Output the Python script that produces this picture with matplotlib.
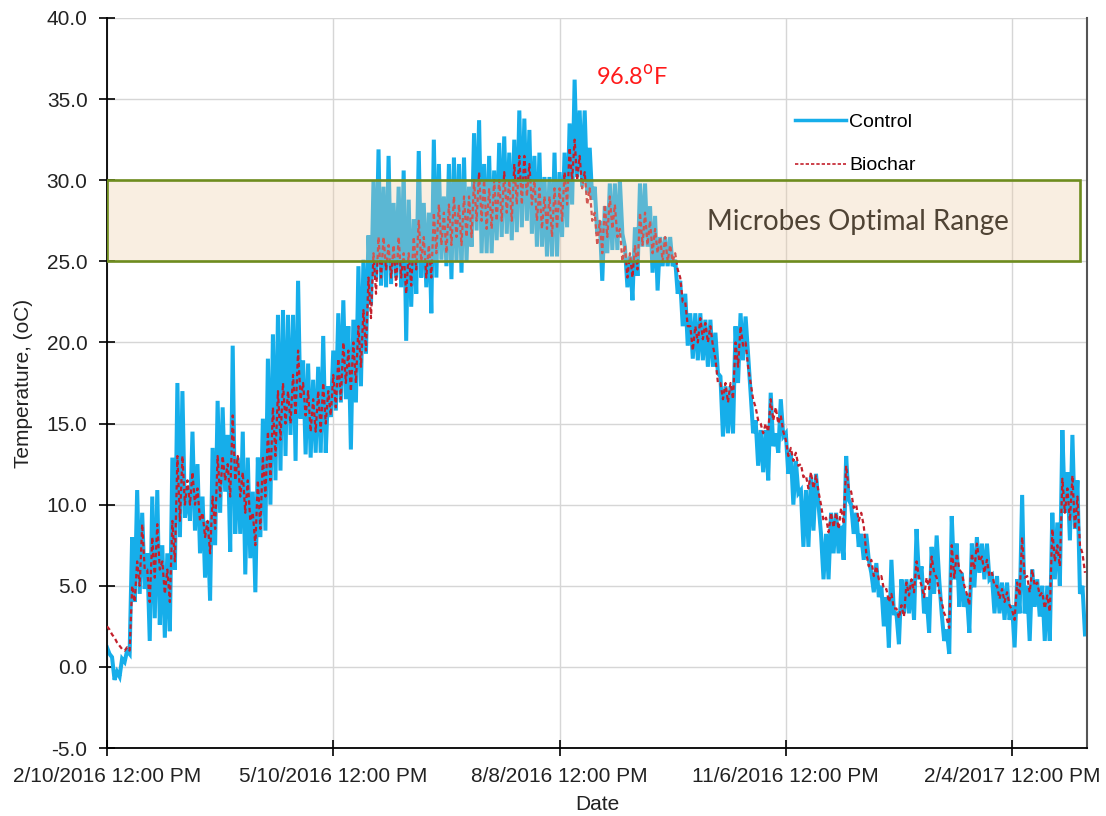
import numpy as np
import matplotlib
matplotlib.use("Agg")
import matplotlib.pyplot as plt
from matplotlib.patches import Rectangle
from matplotlib.lines import Line2D

# ---------------- data ----------------
# days after 2/10/2016 12:00 PM, one sample pair (daily high, following low) every 2 days
step_days = 2
control_hi = [
    1.2, 0.6, -0.3, 0.5, 1.0, 8.0, 10.9, 9.5, 7.0, 10.5,
    10.9, 7.5, 7.0, 12.9, 17.5, 17.0, 11.0, 14.5, 12.5, 10.5,
    9.0, 13.5, 16.4, 16.0, 14.3, 19.8, 12.9, 14.5, 12.9, 10.8,
    12.9, 15.3, 19.0, 20.5, 21.7, 22.0, 21.7, 21.7, 23.8, 18.9,
    18.7, 17.7, 18.5, 20.4, 17.3, 19.5, 21.8, 22.6, 21.0, 21.4,
    24.7, 25.1, 26.6, 30.0, 31.9, 29.6, 31.5, 28.6, 29.6, 30.6,
    28.8, 27.6, 31.8, 28.6, 28.0, 32.5, 31.0, 29.0, 31.0, 31.4,
    31.0, 31.4, 29.6, 32.9, 33.7, 31.0, 31.5, 30.6, 32.3, 32.7,
    31.7, 32.5, 34.3, 33.8, 33.1, 31.5, 31.7, 30.2, 30.2, 31.7,
    30.5, 31.7, 33.5, 36.2, 34.3, 34.3, 32.0, 29.6, 27.5, 28.4,
    29.8, 29.8, 30.0, 25.9, 25.3, 27.1, 29.8, 29.8, 28.4, 27.8,
    26.5, 26.5, 26.5, 25.1, 23.8, 23.0, 21.8, 21.8, 21.8, 21.4,
    21.4, 20.6, 17.9, 17.3, 17.3, 21.0, 21.8, 21.6, 16.9, 15.2,
    14.6, 14.6, 16.9, 14.4, 16.5, 14.4, 13.2, 12.7, 10.9, 10.9,
    11.7, 11.9, 8.2, 8.2, 9.5, 9.5, 8.7, 13.0, 10.0, 9.5,
    8.2, 8.2, 5.8, 6.4, 5.0, 4.3, 6.6, 3.3, 5.4, 5.4,
    5.4, 8.5, 6.2, 4.3, 7.4, 8.1, 3.3, 2.3, 9.3, 7.6,
    5.8, 4.5, 7.6, 8.0, 7.6, 7.6, 5.6, 5.6, 5.2, 5.2,
    3.8, 5.4, 10.6, 5.0, 6.0, 5.4, 5.0, 5.0, 9.5, 8.9,
    14.6, 12.0, 14.3, 11.5, 5.0,
]
control_lo = [
    0.8, -0.8, -0.6, 0.3, 0.8, 4.0, 4.5, 4.8, 1.6, 3.0,
    2.6, 1.8, 2.2, 6.0, 8.0, 9.2, 9.0, 8.4, 7.0, 5.5,
    4.1, 7.5, 9.5, 10.8, 7.1, 8.2, 8.2, 5.7, 6.7, 4.6,
    8.0, 8.4, 10.0, 11.5, 12.1, 13.0, 14.3, 12.7, 15.3, 13.1,
    12.9, 13.2, 13.2, 13.2, 15.4, 15.8, 16.3, 16.5, 13.4, 16.3,
    17.3, 19.3, 22.3, 23.9, 23.5, 23.4, 23.6, 24.0, 23.4, 20.1,
    22.2, 23.0, 24.0, 23.4, 21.8, 24.0, 25.1, 24.7, 23.9, 25.0,
    24.3, 25.0, 25.9, 26.9, 25.5, 25.5, 25.5, 26.3, 26.5, 26.7,
    26.3, 26.8, 27.1, 27.5, 26.7, 25.9, 25.9, 25.3, 25.3, 25.3,
    26.5, 27.1, 28.5, 30.2, 29.6, 29.2, 28.8, 26.7, 23.8, 25.5,
    25.7, 25.7, 26.7, 23.4, 22.6, 24.1, 25.9, 25.9, 24.3, 23.2,
    24.7, 24.7, 24.7, 23.0, 21.0, 19.8, 19.0, 18.9, 18.9, 18.5,
    18.5, 18.1, 14.2, 14.4, 14.4, 17.5, 18.9, 19.3, 14.4, 12.4,
    12.0, 11.5, 13.6, 13.2, 14.2, 11.9, 10.0, 10.7, 7.4, 7.4,
    8.4, 10.0, 5.4, 5.4, 7.0, 7.0, 6.6, 10.3, 8.2, 7.4,
    6.6, 6.6, 4.6, 4.3, 2.5, 1.2, 3.3, 1.4, 3.3, 3.3,
    2.9, 5.4, 3.3, 2.1, 4.5, 5.4, 1.6, 0.8, 5.4, 3.7,
    3.7, 2.1, 4.9, 5.8, 5.4, 5.4, 3.3, 3.3, 2.9, 2.9,
    1.2, 3.3, 3.3, 1.6, 3.7, 3.1, 1.6, 1.6, 5.4, 5.0,
    9.5, 7.8, 8.5, 4.5, 2.0,
]
biochar_hi = [
    2.5, 2.0, 1.5, 1.1, 1.2, 5.0, 6.5, 8.8, 6.0, 8.0,
    8.8, 6.5, 6.0, 9.0, 13.0, 13.0, 11.5, 12.0, 11.0, 9.5,
    9.0, 10.5, 13.0, 13.0, 12.5, 15.5, 13.0, 12.0, 11.5, 9.5,
    11.5, 13.0, 14.5, 16.0, 17.0, 17.5, 17.0, 18.0, 19.5, 17.5,
    17.0, 16.5, 17.0, 17.5, 17.0, 18.0, 19.0, 20.0, 19.5, 20.0,
    21.0, 22.0, 24.0, 25.5, 26.5, 26.5, 26.0, 26.0, 26.5, 25.5,
    25.5, 26.5, 27.5, 26.5, 26.0, 28.0, 28.5, 28.0, 28.5, 29.0,
    28.5, 29.0, 29.0, 30.0, 30.5, 30.0, 29.5, 30.0, 30.0, 30.5,
    30.0, 31.0, 31.5, 31.5, 31.0, 30.0, 29.5, 29.0, 29.0, 29.5,
    29.5, 30.5, 32.0, 32.5, 31.5, 30.5, 29.5, 28.0, 27.5, 28.5,
    29.0, 28.5, 27.0, 26.0, 25.5, 26.0, 28.0, 28.0, 27.5, 27.0,
    26.5, 26.5, 26.0, 25.5, 24.0, 22.5, 21.0, 21.0, 21.5, 21.2,
    21.0, 19.0, 17.5, 17.5, 17.5, 20.0, 21.0, 20.0, 17.5, 16.0,
    15.0, 15.0, 16.5, 16.0, 15.5, 14.0, 13.5, 13.2, 12.5, 11.8,
    12.0, 11.8, 10.0, 9.2, 9.5, 9.5, 9.8, 12.4, 10.8, 10.0,
    9.5, 7.0, 6.6, 6.2, 5.6, 4.8, 4.5, 3.6, 3.8, 5.2,
    5.4, 6.5, 5.0, 5.5, 6.8, 5.5, 4.0, 3.0, 7.5, 7.0,
    5.8, 4.5, 7.0, 7.6, 6.8, 6.6, 5.8, 5.0, 4.8, 4.6,
    3.5, 5.2, 8.0, 5.6, 6.0, 5.2, 4.6, 4.4, 8.5, 7.5,
    11.6, 11.0, 11.8, 10.5, 7.0,
]
biochar_lo = [
    2.3, 1.8, 1.3, 1.0, 1.0, 4.0, 5.0, 6.0, 4.0, 5.5,
    6.0, 4.5, 4.0, 6.5, 9.0, 10.0, 10.0, 10.0, 9.0, 8.0,
    7.0, 8.5, 10.5, 11.5, 10.5, 11.5, 10.5, 9.5, 9.0, 7.5,
    8.5, 10.5, 11.5, 13.0, 14.0, 15.0, 15.0, 15.5, 16.5, 15.5,
    14.5, 14.5, 14.5, 15.0, 15.5, 16.0, 16.5, 17.5, 17.0, 17.5,
    18.5, 19.5, 21.5, 23.0, 24.0, 24.5, 24.0, 23.5, 24.0, 23.0,
    23.5, 24.5, 25.0, 24.0, 24.0, 25.5, 26.0, 25.5, 26.0, 26.5,
    26.0, 26.5, 26.5, 27.5, 27.5, 27.0, 27.0, 27.5, 27.5, 28.0,
    27.5, 28.5, 28.5, 29.0, 28.5, 27.5, 27.0, 27.0, 26.5, 27.0,
    27.5, 28.5, 30.0, 30.0, 29.5, 28.5, 27.5, 26.0, 25.5, 26.5,
    27.0, 26.5, 25.0, 24.0, 24.0, 24.5, 26.0, 26.0, 25.5, 25.5,
    25.0, 25.0, 25.0, 24.5, 22.5, 21.0, 19.5, 20.0, 20.2, 20.0,
    19.8, 17.5, 16.5, 16.3, 16.5, 18.5, 19.8, 18.5, 16.5, 15.2,
    14.4, 14.5, 15.2, 15.0, 14.5, 13.0, 12.7, 12.4, 11.7, 11.0,
    11.0, 10.8, 9.0, 8.3, 8.6, 8.5, 8.8, 11.0, 9.8, 9.0,
    8.7, 6.2, 5.6, 5.4, 4.8, 4.0, 3.6, 3.0, 3.1, 4.4,
    4.6, 5.5, 4.3, 4.8, 5.8, 4.6, 3.3, 2.4, 5.5, 6.0,
    5.0, 3.8, 6.0, 6.5, 5.8, 5.6, 5.0, 4.2, 4.0, 3.8,
    2.9, 4.4, 5.5, 4.6, 5.0, 4.4, 3.6, 3.4, 6.5, 6.2,
    9.5, 9.0, 8.5, 7.5, 5.8,
]
tick_days = [0, 90, 180, 270, 360]
tick_labels = ["2/10/2016 12:00 PM", "5/10/2016 12:00 PM", "8/8/2016 12:00 PM",
               "11/6/2016 12:00 PM", "2/4/2017 12:00 PM"]
optimal_low, optimal_high = 25.0, 30.0
peak_label = "96.8$^{\\mathrm{o}}$F"

# ---------------- build zig-zag series ----------------
days = np.arange(len(control_hi)) * step_days
def zigzag(hi, lo):
    x = np.column_stack([days, days + step_days / 2]).ravel()
    y = np.column_stack([hi, lo]).ravel()
    return x, y

cx, cy = zigzag(control_hi, control_lo)
bx, by = zigzag(biochar_hi, biochar_lo)

# ---------------- figure ----------------
plt.rcParams['font.family'] = ['Liberation Sans', 'DejaVu Sans']
fig = plt.figure(figsize=(11.06, 8.16), dpi=100)
ax = fig.add_axes([107/1106, 1-748/816, 980/1106, 730/816])

ax.set_xlim(0, 389.8)
ax.set_ylim(-5, 40)

ax.grid(True, color='#d6d6d6', linewidth=1.0, zorder=0)
ax.set_axisbelow(True)

ax.plot(cx, cy, color='#16aeea', linewidth=2.9, solid_joinstyle='miter', zorder=2)
ax.plot(bx, by, color='#c4202c', linewidth=1.6, linestyle=(0, (2, 1.4)), zorder=3)

# optimal range box
ax.add_patch(Rectangle((0, optimal_low), 387, optimal_high - optimal_low,
                       facecolor=(0.93, 0.80, 0.64, 0.32), edgecolor='#6e8c1e',
                       linewidth=1.9, zorder=4))
ax.text(298.5, (optimal_low + optimal_high) / 2 - 0.1, "Microbes Optimal Range",
        fontsize=20, family=['Lato', 'DejaVu Sans'], color='#4f4334',
        ha='center', va='center', zorder=5)
ax.text(209, 36.35, peak_label, fontsize=17, family=['Lato', 'DejaVu Sans'],
        color='#ff1a1a', ha='center', va='center', zorder=5)

# axes styling
ax.spines['top'].set_visible(False)
ax.spines['left'].set_color('black')
ax.spines['bottom'].set_color('black')
ax.spines['left'].set_linewidth(1.3)
ax.spines['bottom'].set_linewidth(1.3)
ax.spines['right'].set_color('#555555')
ax.spines['right'].set_linewidth(1.5)

ax.set_yticks(np.arange(-5, 41, 5))
ax.set_yticklabels([f"{v:.1f}" for v in np.arange(-5, 41, 5)])
ax.set_xticks(tick_days)
ax.set_xticklabels(tick_labels)
ax.tick_params(axis='both', direction='inout', length=12, width=1.2,
               labelsize=15, colors='black', labelcolor='#222222')
ax.tick_params(axis='y', pad=8)
ax.tick_params(axis='x', pad=8)

ax.set_xlabel("Date", fontsize=15, color='#222222', labelpad=6)
ax.set_ylabel("Temperature, (oC)", fontsize=15, color='#222222', labelpad=10)

handles = [Line2D([], [], color='#16aeea', linewidth=2.5),
           Line2D([], [], color='#c4202c', linewidth=1.2, linestyle=(0, (2, 1.2)))]
ax.legend(handles, ["Control", "Biochar"], loc='upper left',
          bbox_to_anchor=((795-107)/980, 1-(113-18)/730), frameon=False,
          fontsize=14, handlelength=2.6, handletextpad=0.2, labelspacing=1.35,
          borderpad=0, borderaxespad=0)

fig.savefig("out.png", dpi=100)
